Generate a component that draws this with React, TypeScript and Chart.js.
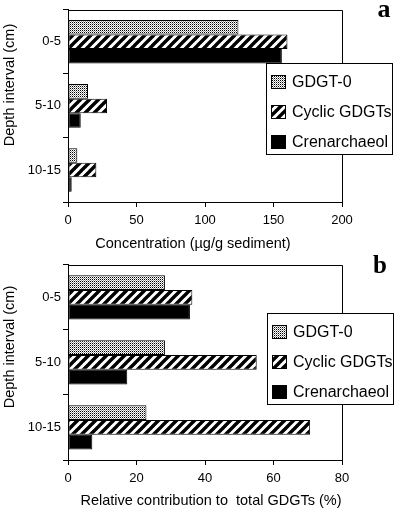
import React, { useEffect, useRef } from 'react';
import { Chart, registerables } from 'chart.js';

Chart.register(...registerables);

// ---- data ----
const depthCategories = ['0-5', '5-10', '10-15'];
const seriesNames = ['GDGT-0', 'Cyclic GDGTs', 'Crenarchaeol'];

const concGDGT0 = [124.4, 14.6, 6.8];
const concCyclic = [160.2, 28.5, 20.7];
const concCren = [156.1, 9.3, 2.7];
const concTicks = [0, 50, 100, 150, 200];

const relGDGT0 = [28.3, 28.3, 22.9];
const relCyclic = [36.3, 55.1, 70.7];
const relCren = [35.6, 17.3, 7.1];
const relTicks = [0, 20, 40, 60, 80];

const yTitle = 'Depth interval (cm)';
const concTitle = 'Concentration (\u00b5g/g sediment)';
const relTitle = 'Relative contribution to  total GDGTs (%)';

const FONT = "'Liberation Sans', Arial, Helvetica, sans-serif";

function makeDotPattern(): CanvasPattern | string {
  const t = document.createElement('canvas');
  t.width = 2;
  t.height = 2;
  const c = t.getContext('2d');
  if (!c) return '#bbb';
  c.fillStyle = '#fff';
  c.fillRect(0, 0, 2, 2);
  c.fillStyle = '#000';
  c.fillRect(0, 0, 1, 1);
  c.fillStyle = '#999';
  c.fillRect(1, 1, 1, 1);
  return c.createPattern(t, 'repeat') || '#bbb';
}

function makeHatchPattern(): CanvasPattern | string {
  const s = 9;
  const t = document.createElement('canvas');
  t.width = s;
  t.height = s;
  const c = t.getContext('2d');
  if (!c) return '#888';
  c.fillStyle = '#fff';
  c.fillRect(0, 0, s, s);
  c.strokeStyle = '#000';
  c.lineWidth = 3.4;
  c.beginPath();
  for (const k of [-s, 0, s]) {
    c.moveTo(k - 1, s + 1);
    c.lineTo(k + s + 1, -1);
  }
  c.stroke();
  return c.createPattern(t, 'repeat') || '#888';
}

const decorPlugin = {
  id: 'decor',
  afterDraw(chart: any, _args: any, opts: any) {
    const ctx: CanvasRenderingContext2D = chart.ctx;
    const a = chart.chartArea;
    ctx.save();
    // plot box top & right
    ctx.strokeStyle = '#000';
    ctx.lineWidth = 1;
    const l = Math.round(a.left) + 0.5;
    const t = Math.round(a.top) + 0.5;
    const r = Math.round(a.right) + 0.5;
    const b = Math.round(a.bottom) + 0.5;
    ctx.beginPath();
    ctx.moveTo(l, t);
    ctx.lineTo(r, t);
    ctx.lineTo(r, b);
    ctx.stroke();

    // axis titles
    ctx.fillStyle = '#000';
    ctx.font = `14.5px ${FONT}`;
    ctx.textAlign = 'center';
    ctx.textBaseline = 'middle';
    const xt = opts.xTitle;
    ctx.fillText(xt.text, xt.cx, xt.cy);
    const yt = opts.yTitle;
    ctx.save();
    ctx.translate(yt.cx, yt.cy);
    ctx.rotate(-Math.PI / 2);
    ctx.fillText(yt.text, 0, 0);
    ctx.restore();

    // legend box
    const lg = opts.legend;
    ctx.fillStyle = '#fff';
    ctx.fillRect(lg.x, lg.y, lg.w, lg.h);
    ctx.strokeStyle = '#000';
    ctx.strokeRect(lg.x + 0.5, lg.y + 0.5, lg.w, lg.h);
    const rows = [18.5, 49, 78.5];
    ctx.font = `16px ${FONT}`;
    ctx.textBaseline = 'middle';
    ctx.textAlign = 'left';
    chart.data.datasets.forEach((ds: any, i: number) => {
      const cy = lg.y + rows[i];
      const sx = lg.x + 5;
      const sy = Math.round(cy - 7);
      ctx.fillStyle = ds.backgroundColor;
      ctx.fillRect(sx, sy, 15, 14);
      ctx.strokeStyle = '#000';
      ctx.strokeRect(sx + 0.5, sy + 0.5, 14, 13);
      ctx.fillStyle = '#000';
      ctx.fillText(ds.label, lg.x + 26, cy + 1);
    });

    // panel letter
    const lt = opts.letter;
    ctx.font = `bold ${lt.size}px 'Liberation Serif', 'Times New Roman', serif`;
    ctx.textBaseline = 'alphabetic';
    ctx.textAlign = 'center';
    ctx.fillStyle = '#000';
    ctx.fillText(lt.text, lt.x, lt.y);
    ctx.restore();
  },
};

interface PanelCfg {
  values: number[][];
  ticks: number[];
  xTitle: { text: string; cx: number; cy: number };
  yTitle: { text: string; cx: number; cy: number };
  height: number;
  plotTop: number;
  plotBottom: number;
  plotLeft: number;
  plotRight: number;
  legend: { x: number; y: number; w: number; h: number };
  letter: { text: string; x: number; y: number; size: number };
}

function buildChart(canvas: HTMLCanvasElement, cfg: PanelCfg, fills: (CanvasPattern | string)[]) {
  const tickFont = { family: FONT, size: 13 };
  return new Chart(canvas, {
    type: 'bar',
    data: {
      labels: depthCategories,
      datasets: cfg.values.map((vals, i) => ({
        label: seriesNames[i],
        data: vals,
        backgroundColor: fills[i] as any,
        borderColor: '#000',
        borderWidth: 1,
        borderSkipped: false,
        categoryPercentage: 0.68,
        barPercentage: 1.0,
      })),
    },
    options: {
      indexAxis: 'y',
      responsive: false,
      animation: false,
      devicePixelRatio: 1,
      layout: {
        autoPadding: false,
        padding: { top: cfg.plotTop, right: 400 - cfg.plotRight, bottom: 0, left: 0 },
      },
      plugins: {
        legend: { display: false },
        tooltip: { enabled: false },
        title: { display: false },
        decor: { legend: cfg.legend, letter: cfg.letter, xTitle: cfg.xTitle, yTitle: cfg.yTitle },
      } as any,
      scales: {
        x: {
          type: 'linear',
          position: 'bottom',
          min: cfg.ticks[0],
          max: cfg.ticks[cfg.ticks.length - 1],
          afterBuildTicks: (scale: any) => {
            scale.ticks = cfg.ticks.map((v) => ({ value: v }));
          },
          afterFit: (scale: any) => {
            scale.height = cfg.height - cfg.plotBottom;
          },
          grid: {
            drawOnChartArea: false,
            drawTicks: true,
            tickLength: 5,
            color: '#000',
            tickColor: '#000',
            lineWidth: 1,
          },
          border: { display: true, color: '#000', width: 1 },
          ticks: { color: '#000', font: tickFont, padding: 6, maxRotation: 0 },
          title: { display: false },
        },
        y: {
          type: 'category',
          position: 'left',
          offset: true,
          afterFit: (scale: any) => {
            scale.width = cfg.plotLeft;
          },
          grid: {
            offset: true,
            drawOnChartArea: false,
            drawTicks: true,
            tickLength: 5,
            color: '#000',
            tickColor: '#000',
            lineWidth: 1,
          },
          border: { display: true, color: '#000', width: 1 },
          ticks: { color: '#000', font: tickFont, padding: 2 },
          title: { display: false },
        },
      },
    } as any,
    plugins: [decorPlugin],
  });
}

export default function App() {
  const topRef = useRef<HTMLCanvasElement>(null);
  const botRef = useRef<HTMLCanvasElement>(null);

  useEffect(() => {
    const fills = [makeDotPattern(), makeHatchPattern(), '#000'];
    const c1 = buildChart(
      topRef.current as HTMLCanvasElement,
      {
        values: [concGDGT0, concCyclic, concCren],
        ticks: concTicks,
        xTitle: { text: concTitle, cx: 193, cy: 244 },
        yTitle: { text: yTitle, cx: 10, cy: 85 },
        height: 255,
        plotTop: 2,
        plotBottom: 202,
        plotLeft: 68,
        plotRight: 342,
        legend: { x: 266, y: 63, w: 126, h: 91 },
        letter: { text: 'a', x: 384, y: 17, size: 26 },
      },
      fills
    );
    const c2 = buildChart(
      botRef.current as HTMLCanvasElement,
      {
        values: [relGDGT0, relCyclic, relCren],
        ticks: relTicks,
        xTitle: { text: relTitle, cx: 211, cy: 246 },
        yTitle: { text: yTitle, cx: 10, cy: 92 },
        height: 256,
        plotTop: 8,
        plotBottom: 205,
        plotLeft: 68,
        plotRight: 342,
        legend: { x: 267, y: 58, w: 126, h: 91 },
        letter: { text: 'b', x: 380, y: 18, size: 25 },
      },
      fills
    );
    return () => {
      c1.destroy();
      c2.destroy();
    };
  }, []);

  return (
    <div style={{ position: 'absolute', left: 0, top: 0, width: 400, height: 511, background: '#fff' }}>
      <canvas ref={topRef} width={400} height={255} style={{ display: 'block' }} />
      <canvas ref={botRef} width={400} height={256} style={{ display: 'block' }} />
    </div>
  );
}
